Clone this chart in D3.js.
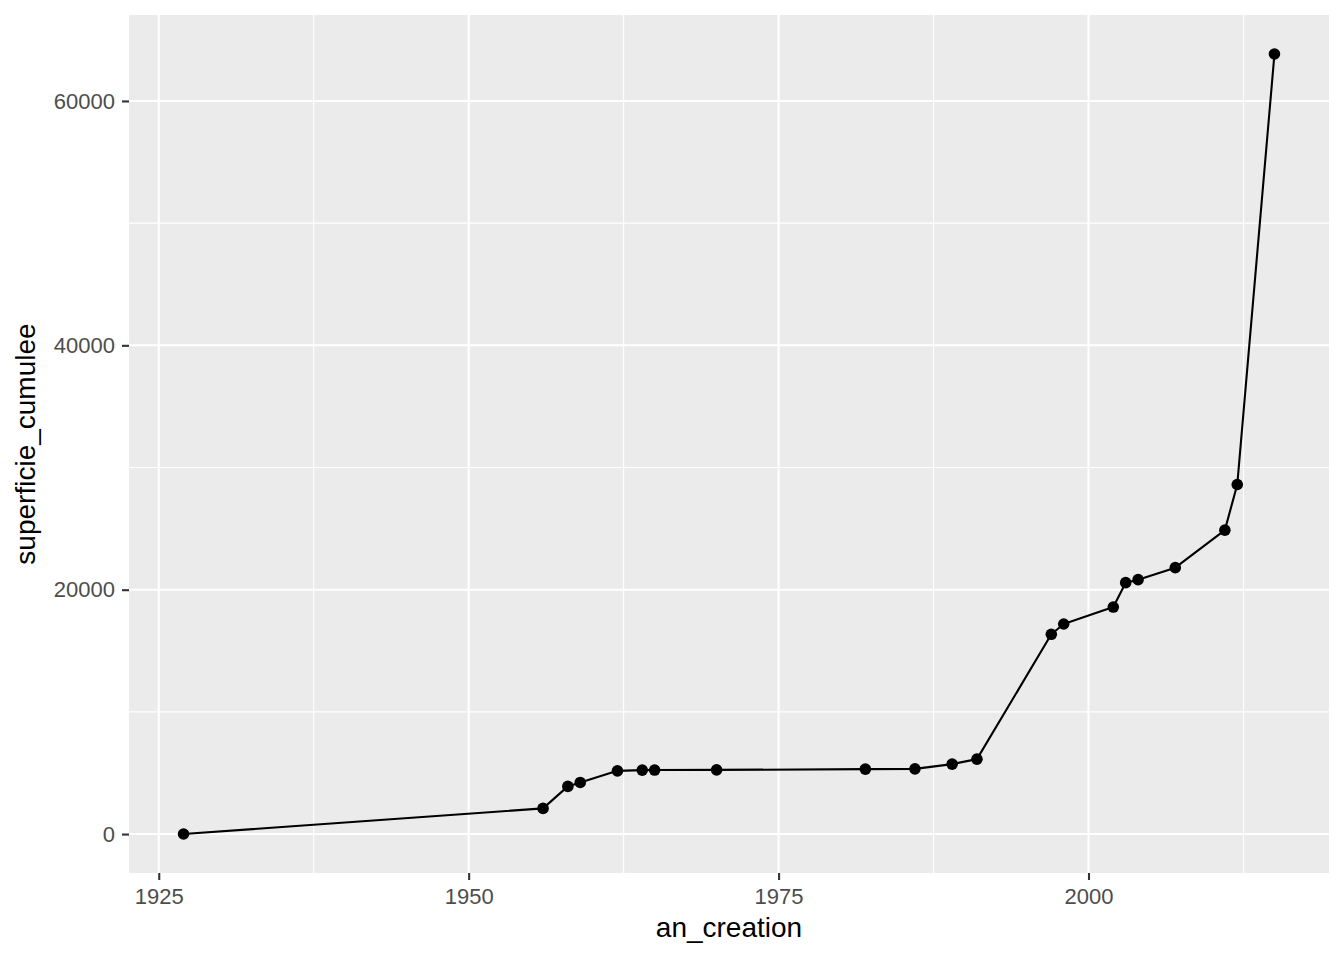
<!DOCTYPE html>
<html><head><meta charset="utf-8">
<script src="https://cdn.jsdelivr.net/npm/d3@7"></script>
<style>body{margin:0;background:#fff}svg{display:block}</style>
</head><body>
<svg id="chart" width="1344" height="960"></svg>
<script>
const years = [1927,1956,1958,1959,1962,1964,1965,1970,1982,1986,1989,1991,1997,1998,2002,2003,2004,2007,2011,2012,2015];
const superficie = [5,2100,3900,4226,5175,5232,5240,5250,5313,5338,5722,6131,16349,17191,18581,20576,20821,21802,24875,28611,63843];
const xTicks = [1925,1950,1975,2000];
const yTicks = [0,20000,40000,60000];
const xMinor = [1937.5,1962.5,1987.5,2012.5];
const yMinor = [10000,30000,50000];

const data = years.map((y,i)=>({x:y,y:superficie[i]}));
const svg = d3.select("#chart");
const L=129,R=1329,T=15,B=873;
const xmin=d3.min(years), xmax=d3.max(years);
const ymin=d3.min(superficie), ymax=d3.max(superficie);
const xp=(xmax-xmin)*0.05, yp=(ymax-ymin)*0.05;
const x=d3.scaleLinear().domain([xmin-xp,xmax+xp]).range([L,R]);
const y=d3.scaleLinear().domain([ymin-yp,ymax+yp]).range([B,T]);

svg.append("rect").attr("x",L).attr("y",T).attr("width",R-L).attr("height",B-T).attr("fill","#EBEBEB");
const g=svg.append("g");
g.selectAll(".xm").data(xMinor).join("line").attr("x1",d=>x(d)).attr("x2",d=>x(d)).attr("y1",T).attr("y2",B).attr("stroke","#fff").attr("stroke-width",1.1);
g.selectAll(".ym").data(yMinor).join("line").attr("y1",d=>y(d)).attr("y2",d=>y(d)).attr("x1",L).attr("x2",R).attr("stroke","#fff").attr("stroke-width",1.1);
g.selectAll(".xM").data(xTicks).join("line").attr("x1",d=>x(d)).attr("x2",d=>x(d)).attr("y1",T).attr("y2",B).attr("stroke","#fff").attr("stroke-width",2.1);
g.selectAll(".yM").data(yTicks).join("line").attr("y1",d=>y(d)).attr("y2",d=>y(d)).attr("x1",L).attr("x2",R).attr("stroke","#fff").attr("stroke-width",2.1);

const font="'Liberation Sans', Arial, Helvetica, sans-serif";
const xAxis=svg.append("g").attr("transform",`translate(0,${B})`).call(d3.axisBottom(x).tickValues(xTicks).tickFormat(d3.format("d")).tickSize(7).tickPadding(8));
const yAxis=svg.append("g").attr("transform",`translate(${L},0)`).call(d3.axisLeft(y).tickValues(yTicks).tickFormat(d=>String(d)).tickSize(7).tickPadding(7));
[xAxis,yAxis].forEach(a=>{
  a.select(".domain").remove();
  a.selectAll(".tick line").attr("stroke","#333333").attr("stroke-width",2.1);
  a.selectAll(".tick text").attr("fill","#4D4D4D").style("font-family",font).style("font-size","22px");
});

const line=d3.line().x(d=>x(d.x)).y(d=>y(d.y));
svg.append("path").datum(data).attr("d",line).attr("fill","none").attr("stroke","#000").attr("stroke-width",2.1).attr("stroke-linejoin","round");
svg.selectAll(".pt").data(data).join("circle").attr("cx",d=>x(d.x)).attr("cy",d=>y(d.y)).attr("r",5.8).attr("fill","#000");

svg.append("text").attr("x",(L+R)/2).attr("y",937).attr("text-anchor","middle").style("font-family",font).style("font-size","28px").attr("fill","#000").text("an_creation");
svg.append("text").attr("transform",`translate(35,${(T+B)/2}) rotate(-90)`).attr("text-anchor","middle").style("font-family",font).style("font-size","28px").attr("fill","#000").text("superficie_cumulee");
</script>
</body></html>
